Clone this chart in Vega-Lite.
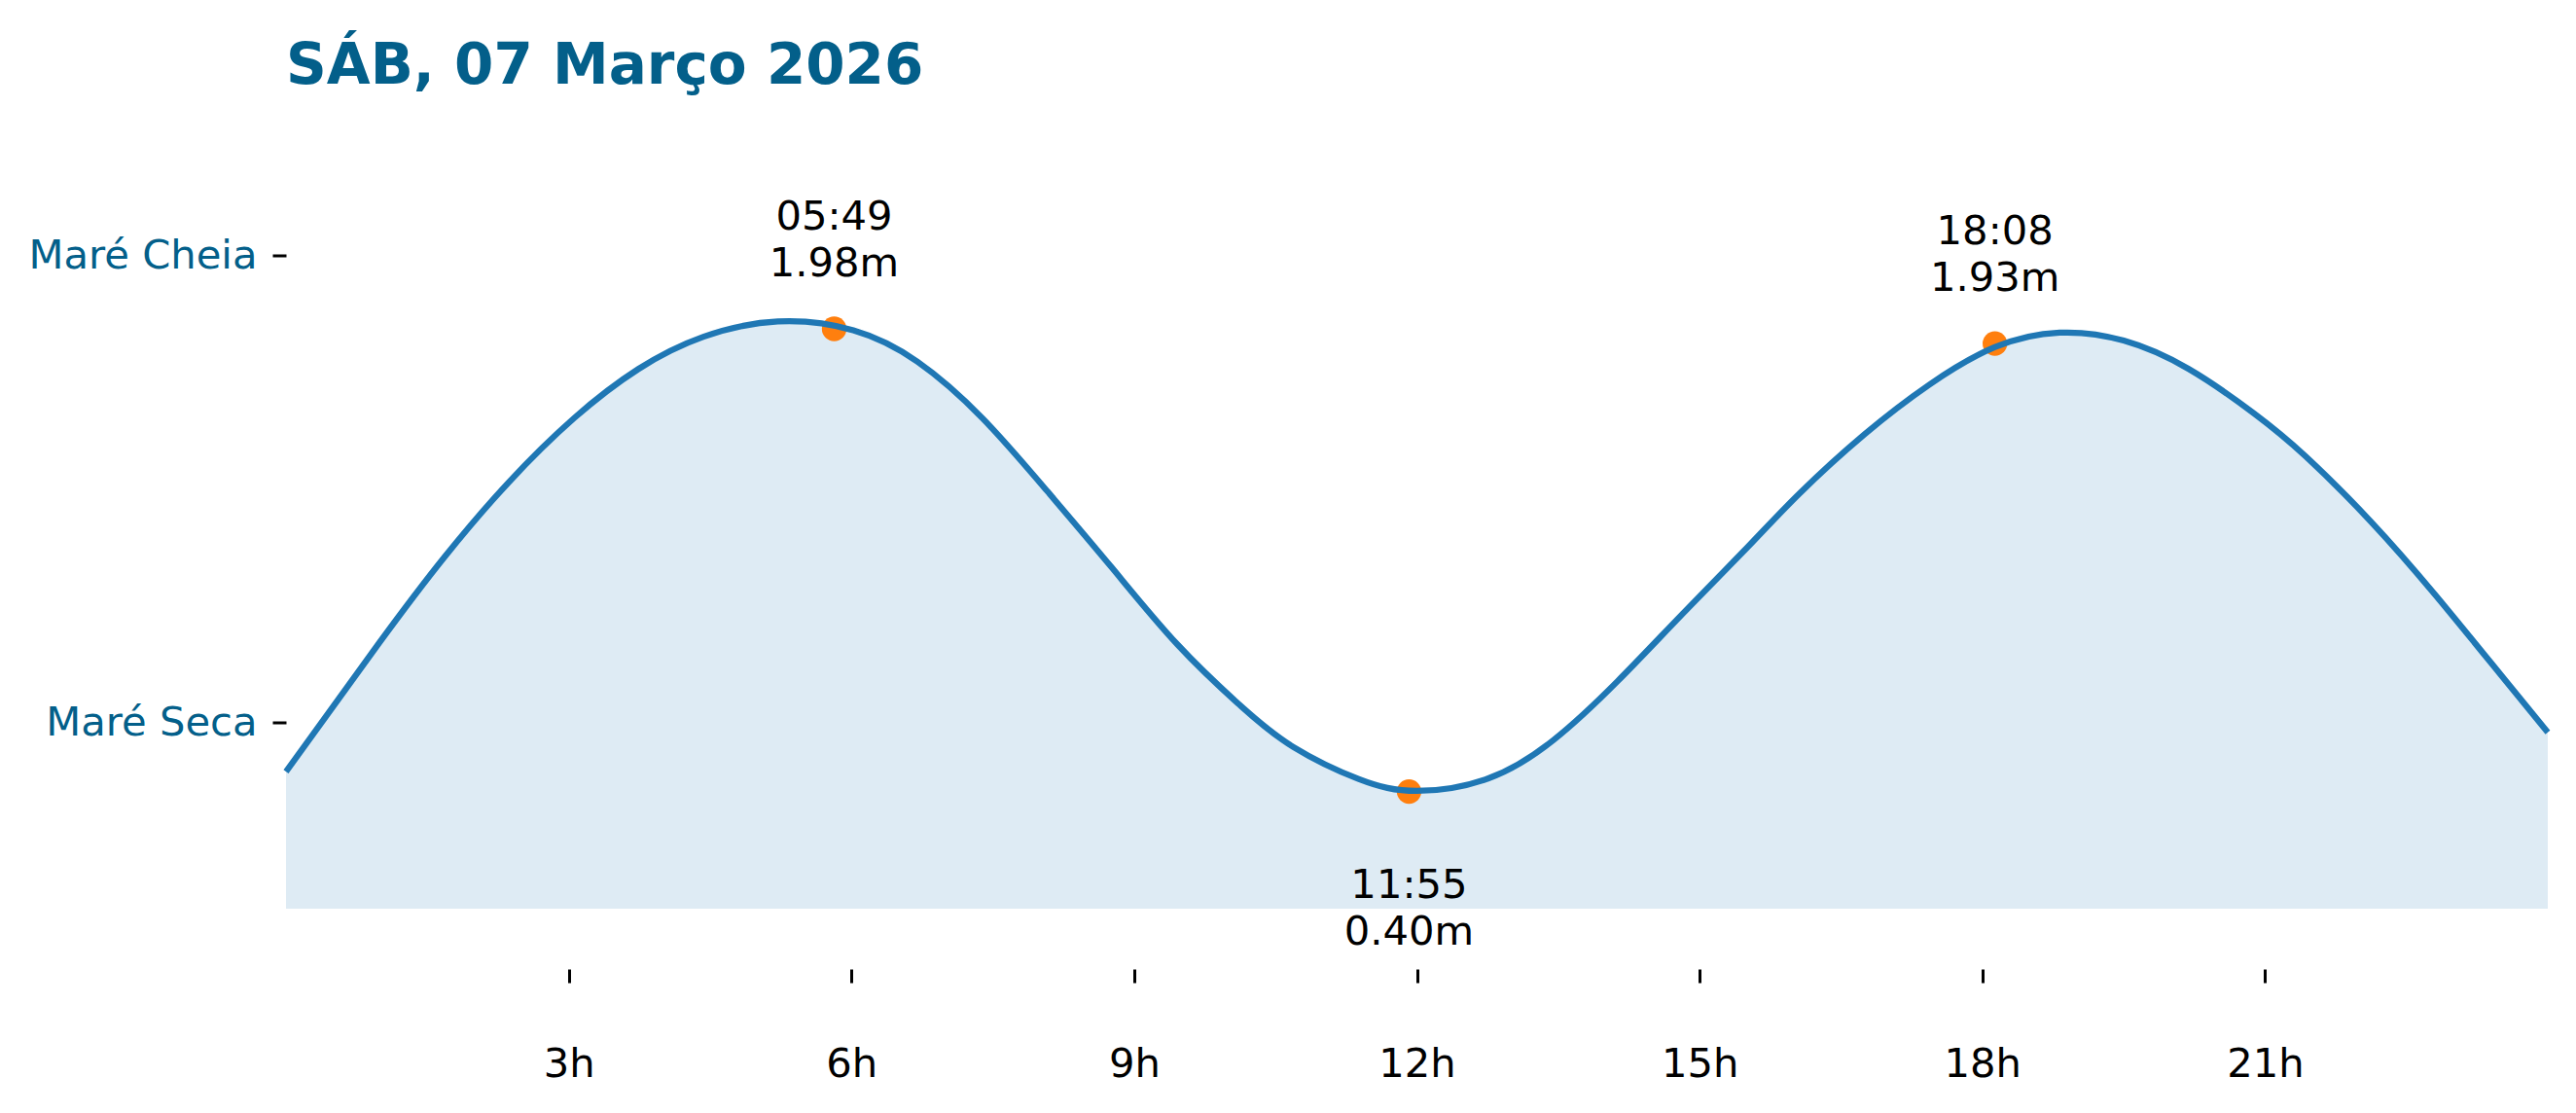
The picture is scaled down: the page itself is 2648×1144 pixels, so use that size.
{
  "$schema": "https://vega.github.io/schema/vega-lite/v6.json",
  "width": 2325,
  "height": 752.5,
  "autosize": {"type": "none"},
  "padding": {"left": 294, "top": 181.5, "right": 29, "bottom": 210},
  "background": "white",
  "title": {"text": "SÁB, 07 Março 2026", "anchor": "start", "frame": "group", "fontSize": 58, "fontWeight": "bold", "color": "#035f8a", "font": "DejaVu Sans", "offset": 84},
  "config": {"view": {"stroke": null}, "font": "DejaVu Sans"},
  "datasets": {
    "curve": [
      {"hour": 0.0, "height": 0.468},
      {"hour": 0.99, "height": 0.908},
      {"hour": 1.68, "height": 1.2},
      {"hour": 2.36, "height": 1.455},
      {"hour": 3.06, "height": 1.676},
      {"hour": 3.74, "height": 1.843},
      {"hour": 4.43, "height": 1.953},
      {"hour": 5.22, "height": 2.005},
      {"hour": 6.02, "height": 1.975},
      {"hour": 6.7, "height": 1.868},
      {"hour": 7.39, "height": 1.675},
      {"hour": 8.08, "height": 1.425},
      {"hour": 8.76, "height": 1.166},
      {"hour": 9.46, "height": 0.902},
      {"hour": 10.14, "height": 0.69},
      {"hour": 10.69, "height": 0.552},
      {"hour": 11.38, "height": 0.443},
      {"hour": 12.0, "height": 0.402},
      {"hour": 12.76, "height": 0.445},
      {"hour": 13.45, "height": 0.576},
      {"hour": 14.13, "height": 0.777},
      {"hour": 14.82, "height": 1.007},
      {"hour": 15.51, "height": 1.235},
      {"hour": 16.06, "height": 1.418},
      {"hour": 16.75, "height": 1.62},
      {"hour": 17.44, "height": 1.79},
      {"hour": 18.13, "height": 1.917},
      {"hour": 18.82, "height": 1.967},
      {"hour": 19.5, "height": 1.94},
      {"hour": 20.19, "height": 1.843},
      {"hour": 20.88, "height": 1.692},
      {"hour": 21.43, "height": 1.545},
      {"hour": 22.12, "height": 1.323},
      {"hour": 22.8, "height": 1.074},
      {"hour": 23.49, "height": 0.803},
      {"hour": 24.0, "height": 0.602}
    ],
    "extremes": [
      {"hour": 5.8167, "height": 1.98, "type": "high", "label": "05:49\n1.98m"},
      {"hour": 11.9167, "height": 0.40, "type": "low", "label": "11:55\n0.40m"},
      {"hour": 18.1333, "height": 1.93, "type": "high", "label": "18:08\n1.93m"}
    ]
  },
  "encoding": {
    "x": {
      "field": "hour", "type": "quantitative",
      "scale": {"domain": [0, 24], "nice": false, "zero": false},
      "axis": {"values": [3, 6, 9, 12, 15, 18, 21], "labelExpr": "datum.value + 'h'", "title": null, "domain": false, "grid": false, "offset": 62, "tickSize": 14, "tickWidth": 3, "tickColor": "black", "labelPadding": 63, "labelFontSize": 41.7, "labelColor": "black", "labelFont": "DejaVu Sans"}
    },
    "y": {
      "field": "height", "type": "quantitative",
      "scale": {"domain": [0, 2.5], "nice": false, "zero": true},
      "axis": {"values": [0.636, 2.232], "labelExpr": "datum.value > 1 ? 'Maré Cheia' : 'Maré Seca'", "title": null, "domain": false, "grid": false, "tickSize": 14, "tickWidth": 3, "tickColor": "black", "labelPadding": 16, "labelLimit": 0, "labelFontSize": 41.7, "labelColor": "#035f8a", "labelFont": "DejaVu Sans"}
    }
  },
  "layer": [
    {"data": {"name": "curve"}, "mark": {"type": "area", "interpolate": "natural", "color": "#1f77b4", "fillOpacity": 0.15}},
    {"data": {"name": "extremes"}, "mark": {"type": "point", "filled": true, "shape": "circle", "size": 640, "color": "#ff7f0e", "opacity": 1}},
    {"data": {"name": "curve"}, "mark": {"type": "line", "interpolate": "natural", "color": "#1f77b4", "strokeWidth": 6.25}},
    {"data": {"name": "extremes"}, "transform": [{"filter": "datum.type === 'high'"}], "mark": {"type": "text", "dy": -102, "fontSize": 41.7, "lineBreak": "\n", "lineHeight": 48, "align": "center", "baseline": "alphabetic", "color": "black", "font": "DejaVu Sans"}, "encoding": {"text": {"field": "label"}}},
    {"data": {"name": "extremes"}, "transform": [{"filter": "datum.type === 'low'"}], "mark": {"type": "text", "dy": 109, "fontSize": 41.7, "lineBreak": "\n", "lineHeight": 48, "align": "center", "baseline": "alphabetic", "color": "black", "font": "DejaVu Sans"}, "encoding": {"text": {"field": "label"}}}
  ]
}
